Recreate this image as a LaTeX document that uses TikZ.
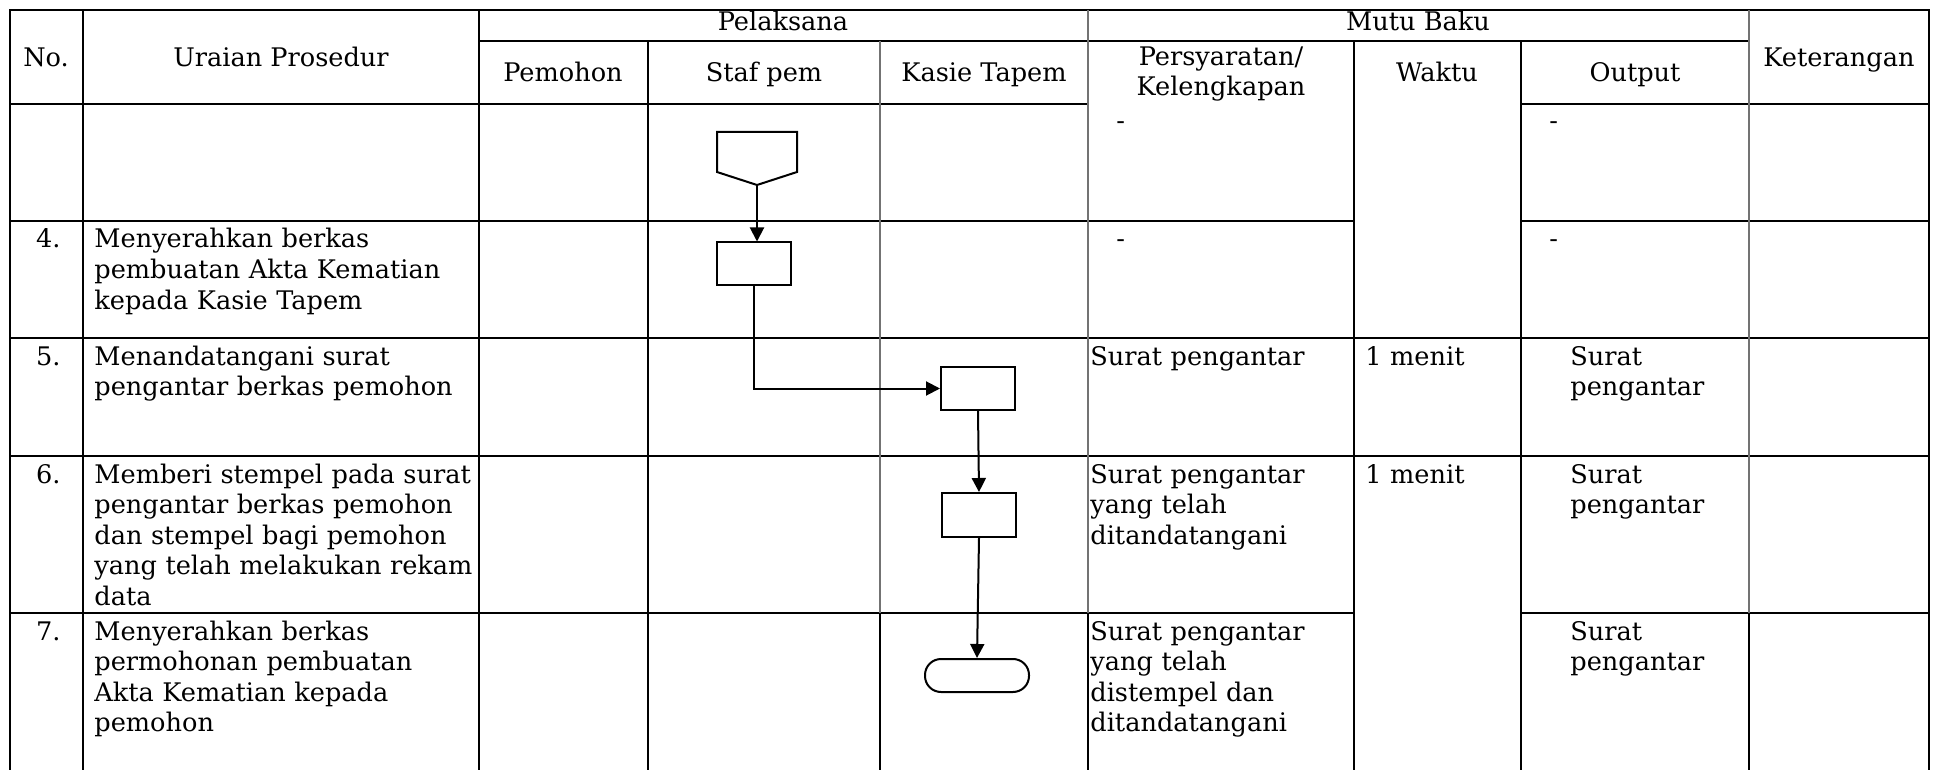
\documentclass[tikz,border=0pt]{standalone}
\usepackage{fontspec}
\setmainfont{DejaVu Serif}
\usetikzlibrary{arrows.meta}

\begin{document}
\begin{tikzpicture}
[x=0.5pt,y=-0.5pt,
 every node/.style={inner sep=0pt,font=\fontsize{12.8}{15.3}\selectfont},
 hd/.style={anchor=base},
 txt/.style={anchor=base west,text width=#1,align=left},
 txt/.default=220pt,
 nr/.style={anchor=base east},
 rowline/.style={line width=1.3pt,line cap=rect},
 colline/.style={line width=0.9pt},
 soft/.style={line width=0.6pt,black!55},
 procbox/.style={draw,line width=1pt,minimum width=37pt,minimum height=21.5pt},
 arr/.style={line width=1pt,-{Triangle[length=7pt,width=7pt]}}]
\useasboundingbox (0,0) rectangle (1939,770);

% garis tabel
\foreach \y/\a/\b in {10/10/1929,41/479/1749,104/10/1088,104/1521/1929,221/10/1354,221/1521/1929,338/10/1929,456/10/1929,613/10/1354,613/1521/1929}
\draw[rowline] (\a,\y) -- (\b,\y);
\foreach \x/\a in {10/10,83/10,479/10,648/41,1354/41,1521/41,1929/10}
\draw[colline] (\x,\a) -- (\x,770);
\foreach \x/\a in {880/41,1088/10,1749/10}
{\draw[soft] (\x,\a) -- (\x,613);
 \draw[colline] (\x,613) -- (\x,770);}

% kepala tabel
\node[hd] (no) at (46,67) {No.};
\node[hd] (urai) at (281,67) {Uraian Prosedur};
\node[hd] (pel) at (783,31) {Pelaksana};
\node[hd] (mutu) at (1418,31) {Mutu Baku};
\node[hd] (ket) at (1839,67) {Keterangan};
\node[hd] (pem) at (563,82) {Pemohon};
\node[hd] (staf) at (764,82) {Staf pem};
\node[hd] (kasie) at (984,82) {Kasie Tapem};
\node[hd] (syarat) at (1221,66) {Persyaratan/};
\node[hd] (lengkap) at (1221,96) {Kelengkapan};
\node[hd] (waktu) at (1437,82) {Waktu};
\node[hd] (output) at (1635,82) {Output};

% uraian
\node[nr] (n4) at (61,248) {4.};
\node[txt] (u4) at (94,248) {Menyerahkan berkas\\pembuatan Akta Kematian\\kepada Kasie Tapem};
\node[nr] (n5) at (61,365) {5.};
\node[txt] (u5) at (94,365) {Menandatangani surat\\pengantar berkas pemohon};
\node[nr] (n6) at (61,483) {6.};
\node[txt] (u6) at (94,483) {Memberi stempel pada surat\\pengantar berkas pemohon\\dan stempel bagi pemohon\\yang telah melakukan rekam\\data};
\node[nr] (n7) at (61,640) {7.};
\node[txt] (u7) at (94,640) {Menyerahkan berkas\\permohonan pembuatan\\Akta Kematian kepada\\pemohon};

% mutu baku
\node[txt] (s0) at (1116,130) {-};
\node[txt] (s4) at (1116,248) {-};
\node[txt] (s5) at (1090,365) {Surat pengantar};
\node[txt] (s6) at (1090,483) {Surat pengantar\\yang telah\\ditandatangani};
\node[txt] (s7) at (1090,640) {Surat pengantar\\yang telah\\distempel dan\\ditandatangani};
\node[txt] (w5) at (1365,365) {1 menit};
\node[txt] (w6) at (1365,483) {1 menit};
\node[txt] (o0) at (1549,130) {-};
\node[txt] (o4) at (1549,248) {-};
\node[txt] (o5) at (1570,365) {Surat\\pengantar};
\node[txt] (o6) at (1570,483) {Surat\\pengantar};
\node[txt] (o7) at (1570,640) {Surat\\pengantar};

% bagan alir
\draw[line width=1pt] (717,132) -- (797,132) -- (797,172) -- (757,185) -- (717,172) -- cycle;
\coordinate (opc) at (757,185);
\node[procbox] (r1) at (753.5,264) {};
\node[procbox] (r2) at (978,388.5) {};
\node[procbox,minimum height=22pt] (r3) at (979,515) {};
\node[draw,line width=1pt,rounded corners=8pt,minimum width=52pt,minimum height=16.5pt] (fin) at (977,675.5) {};
\draw[arr] (opc) -- (opc |- r1.north);
\draw[arr] (r1.south) |- (r2.west);
\draw[arr] (r2.south) -- (r3.north);
\draw[arr] (r3.south) -- (fin.north);
\end{tikzpicture}
\end{document}
